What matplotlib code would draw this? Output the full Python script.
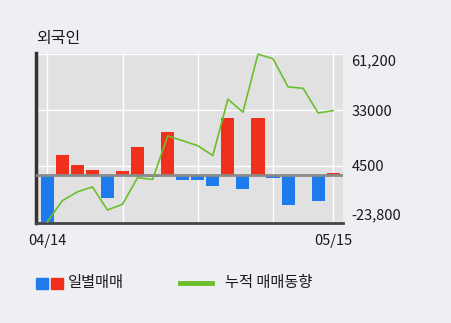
import matplotlib
matplotlib.use("Agg")
import matplotlib.pyplot as plt
import numpy as np

plt.rcParams['font.family'] = ['Noto Sans CJK KR', 'DejaVu Sans']

# data
dates = ["04/14", "", "", "", "", "", "", "", "", "", "", "", "", "", "", "", "", "", "", "05/15"]
daily = [-23800, 10200, 4900, 2700, -11600, 2200, 13900, -1100, 21900, -2800,
         -2800, -5600, 28900, -7300, 28900, -1600, -15100, -300, -13100, 1100]
cumul = [-23800, -13100, -8600, -6100, -17800, -14900, -1400, -2300, 19800, 17300,
         14800, 9800, 38400, 31800, 61200, 58900, 44600, 43900, 31400, 32600]
ytick_vals = list(np.linspace(-23800, 61200, 4))
ytick_labels = ["-23,800", "4500", "33000", "61,200"]
title = "외국인"

fig_bg = "#eeeff3"
plot_bg = "#e1e1e1"
blue = "#1f7bec"
red = "#f0301c"
green = "#6cbf2b"
txt = "#1a1a1a"

fig = plt.figure(figsize=(4.51, 3.23), dpi=100, facecolor=fig_bg)
ax = fig.add_axes([36/451, 1 - 223/323, (343 - 36)/451, (223 - 53)/323])
ax.set_facecolor(plot_bg)

x = np.arange(len(daily))
colors = [red if v > 0 else blue for v in daily]
ax.bar(x, daily, width=0.87, color=colors, zorder=3)
ax.axhline(0, color="#8a8a8a", lw=2, zorder=4)
ax.plot(x, cumul, color=green, lw=1.2, zorder=5)

ax.set_xlim(-0.75, 19.65)
ax.set_ylim(-24400, 61800)

# grid
for gx in [0, 5, 10, 15, 19]:
    ax.axvline(gx, color="white", lw=1, zorder=1)
for gy in ytick_vals[1:]:
    ax.axhline(gy, color="white", lw=1, zorder=1)

ax.set_xticks([0, 19])
ax.set_xticklabels([dates[0], dates[19]], fontsize=10.5, color=txt)
ax.tick_params(axis="x", length=0, pad=8)

ax.yaxis.tick_right()
ax.set_yticks(ytick_vals)
ax.set_yticklabels(ytick_labels, fontsize=10.5, color=txt)
ax.tick_params(axis="y", length=0, pad=6)
ylabels = ax.get_yticklabels()
ylabels[0].set_va("bottom")
ylabels[-1].set_va("top")

for s in ["top", "right"]:
    ax.spines[s].set_visible(False)
ax.spines["left"].set_color("#333333")
ax.spines["left"].set_linewidth(2.5)
ax.spines["bottom"].set_color("#444444")
ax.spines["bottom"].set_linewidth(2)

fig.text(36/451, 1 - 38/323, title, fontsize=11.5, va="center", ha="left", color=txt)

# legend
fig.patches.append(plt.Rectangle((36/451, 1 - 289/323), 12/451, 11/323,
                                 transform=fig.transFigure, color=blue, figure=fig))
fig.patches.append(plt.Rectangle((51/451, 1 - 289/323), 12/451, 11/323,
                                 transform=fig.transFigure, color=red, figure=fig))
fig.text(68/451, 1 - 283/323, "일별매매", fontsize=11, va="center", ha="left", color=txt)
fig.lines.append(plt.Line2D([180/451, 212/451], [1 - 283/323, 1 - 283/323],
                            transform=fig.transFigure, color=green, lw=3.5, figure=fig))
fig.text(225/451, 1 - 283/323, "누적 매매동향", fontsize=11, va="center", ha="left", color=txt)

fig.savefig("out.png", dpi=100, facecolor=fig_bg)
